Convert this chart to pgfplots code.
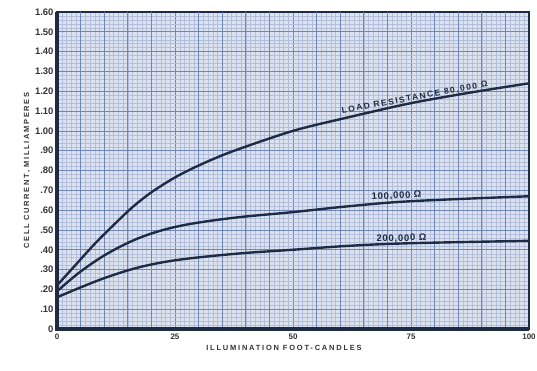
\documentclass[border=0pt]{standalone}
\usepackage{pgfplots}
\pgfplotsset{compat=1.18}
\usepackage{fontspec}
\setmainfont{Liberation Sans}
\definecolor{paper}{HTML}{DCE3EF}
\definecolor{gmaj}{HTML}{6F86B8}
\definecolor{gmin}{HTML}{B3BFDA}
\definecolor{ink}{HTML}{1E2B45}
\begin{document}
\begin{tikzpicture}
\useasboundingbox (-57bp,-42bp) rectangle (480bp,329bp);
\begin{axis}[
  scale only axis, width=472bp, height=317bp,
  at={(0,0)}, anchor=south west,
  xmin=0, xmax=100, ymin=0, ymax=1.6,
  axis background/.style={fill=paper},
  xtick={0,25,50,75,100},
  ytick={0,0.1,...,1.61},
  yticklabels={0,.10,.20,.30,.40,.50,.60,.70,.80,.90,1.00,1.10,1.20,1.30,1.40,1.50,1.60},
  extra x ticks={5,10,15,20,30,35,40,45,55,60,65,70,80,85,90,95},
  extra x tick labels={},
  extra x tick style={grid=major, major tick length=0pt},
  minor xtick={0,1,...,100},
  minor y tick num=4,
  grid=both,
  major grid style={gmaj, line width=0.7pt},
  minor grid style={gmin, line width=0.4pt},
  tick style={draw=none},
  axis line style={ink, line width=2pt},
  every tick label/.append style={font=\fontsize{9.5}{10}\selectfont\bfseries, text=black!80},
  xticklabel style={font=\fontsize{8}{9}\selectfont\bfseries, yshift=-1bp},
  yticklabel style={xshift=0bp},
  /pgf/number format/assume math mode=true,
  xlabel={\addfontfeature{LetterSpace=24}ILLUMINATION FOOT-CANDLES},
  ylabel={\addfontfeature{LetterSpace=22}CELL CURRENT, MILLIAMPERES},
  label style={font=\fontsize{7.5}{8}\selectfont\bfseries, text=black!80},
  xlabel style={yshift=1bp, xshift=-9bp},
  ylabel style={yshift=-2bp},
  clip=false,
]
\addplot[ink, line width=2.4pt, smooth, tension=0.5] coordinates {
(0,0.22)(4,0.325)(8,0.43)(12,0.525)(16,0.615)(20,0.69)(25,0.765)(30,0.825)(37,0.895)(50,1.00)(62,1.07)(75,1.14)(88,1.195)(100,1.24)};
\addplot[ink, line width=2.4pt, smooth, tension=0.6] coordinates {
(0,0.19)(5,0.29)(11,0.385)(18,0.465)(26,0.52)(37,0.56)(50,0.59)(62,0.62)(75,0.645)(100,0.67)};
\addplot[ink, line width=2.4pt, smooth, tension=0.6] coordinates {
(0,0.16)(5,0.21)(11,0.265)(18,0.315)(26,0.35)(38,0.38)(50,0.40)(62,0.42)(75,0.433)(100,0.445)};
\draw[ink, line width=3.5pt] (rel axis cs:0,1) -- (rel axis cs:0,0) -- (rel axis cs:1,0);
\node[rotate=10.5, font=\fontsize{8.5}{9}\selectfont\bfseries, text=ink, anchor=south, inner sep=1.5pt] at (axis cs:76,1.14) {\addfontfeature{LetterSpace=18}LOAD RESISTANCE 80,000 Ω};
\node[rotate=3, font=\fontsize{9.5}{10}\selectfont\bfseries, text=ink, anchor=south, inner sep=1pt] at (axis cs:72,0.645) {\addfontfeature{LetterSpace=8}100,000 Ω};
\node[rotate=1, font=\fontsize{9.5}{10}\selectfont\bfseries, text=ink, anchor=south, inner sep=1pt] at (axis cs:73,0.43) {\addfontfeature{LetterSpace=8}200,000 Ω};
\end{axis}
\end{tikzpicture}
\end{document}
